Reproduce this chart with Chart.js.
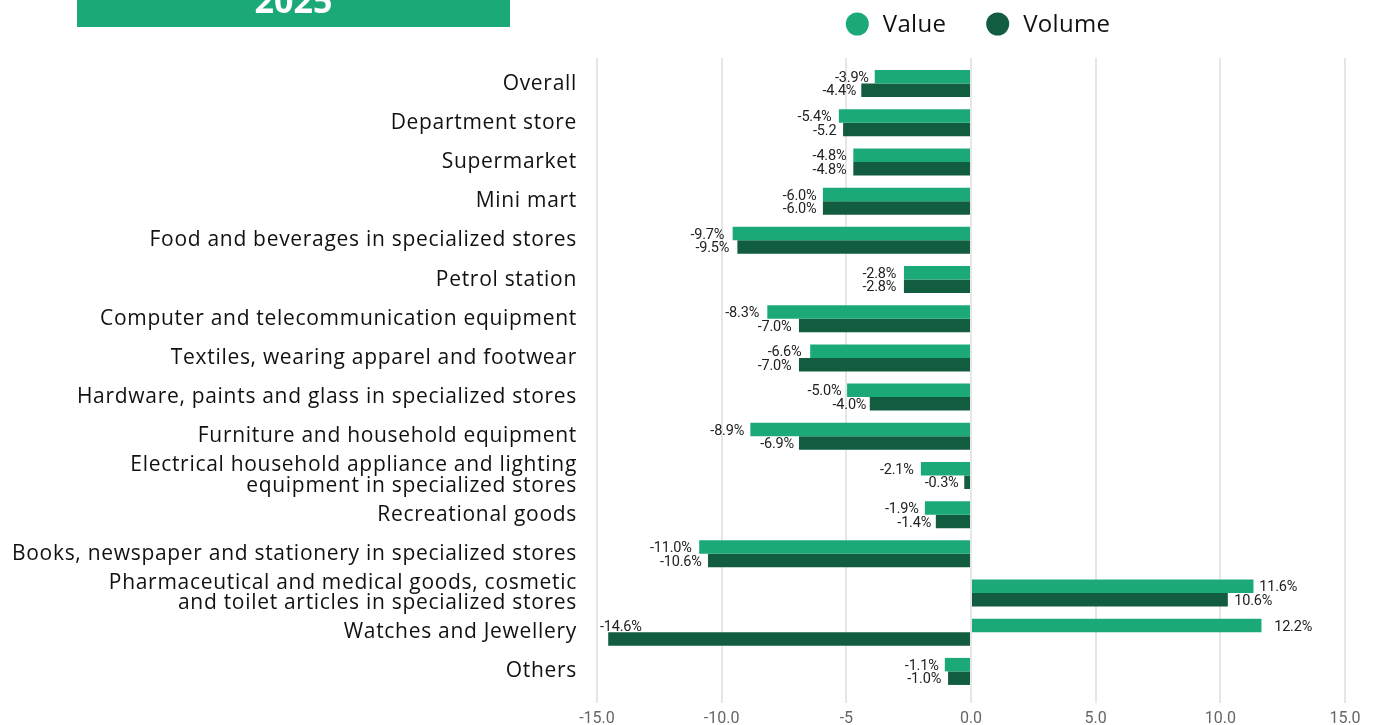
<!DOCTYPE html>
<html><head><meta charset="utf-8">
<script src="https://cdn.jsdelivr.net/npm/chart.js@4.4.1/dist/chart.umd.min.js"></script>
<style>html,body{margin:0;padding:0;background:#fff;overflow:hidden}</style>
</head><body>
<canvas id="c" width="1373" height="725"></canvas>
<script>
const categories = [
  'Overall',
  'Department store',
  'Supermarket',
  'Mini mart',
  'Food and beverages in specialized stores',
  'Petrol station',
  'Computer and telecommunication equipment',
  'Textiles, wearing apparel and footwear',
  'Hardware, paints and glass in specialized stores',
  'Furniture and household equipment',
  ['Electrical household appliance and lighting', 'equipment in specialized stores'],
  'Recreational goods',
  'Books, newspaper and stationery in specialized stores',
  ['Pharmaceutical and medical goods, cosmetic', 'and toilet articles in specialized stores'],
  'Watches and Jewellery',
  'Others'
];
// bar lengths as drawn in the picture
const valueBars  = [-3.86, -5.30, -4.72, -5.94, -9.56, -2.69, -8.17, -6.45, -4.97, -8.85, -2.01, -1.85, -10.90, 11.33, 11.65, -1.05];
const volumeBars = [-4.40, -5.13, -4.72, -5.94, -9.37, -2.69, -6.90, -6.90, -4.06, -6.90, -0.27, -1.41, -10.55, 10.30, -14.55, -0.92];
// printed value labels
const valueLabels  = ['-3.9%', '-5.4%', '-4.8%', '-6.0%', '-9.7%', '-2.8%', '-8.3%', '-6.6%', '-5.0%', '-8.9%', '-2.1%', '-1.9%', '-11.0%', '11.6%', '12.2%', '-1.1%'];
const volumeLabels = ['-4.4%', '-5.2', '-4.8%', '-6.0%', '-9.5%', '-2.8%', '-7.0%', '-7.0%', '-4.0%', '-6.9%', '-0.3%', '-1.4%', '-10.6%', '10.6%', '-14.6%', '-1.0%'];
const xTicks = [-15, -10, -5, 0, 5, 10, 15];
const xTickLabels = ['-15.0', '-10.0', '-5', '0.0', '5.0', '10.0', '15.0'];
const seriesNames = ['Value', 'Volume'];
const titleText = '2025';

const GREEN = '#1BAA77';
const DARK = '#125C3F';
const GRID = '#e6e6e6';

const spacingPlugin = {
  id: 'catSpacing',
  beforeDraw(chart) { chart.ctx.letterSpacing = '0.7px'; },
  beforeDatasetsDraw(chart) {
    const ctx = chart.ctx, xs = chart.scales.x, a = chart.chartArea;
    ctx.letterSpacing = '0px';
    // small extension of the vertical grid lines above the plot
    ctx.save();
    ctx.strokeStyle = GRID;
    ctx.lineWidth = 2;
    xs.ticks.forEach(t => {
      const px = Math.round(xs.getPixelForValue(t.value));
      ctx.beginPath();
      ctx.moveTo(px, a.top - 6);
      ctx.lineTo(px, a.top);
      ctx.stroke();
    });
    ctx.restore();
  }
};

const titlePlugin = {
  id: 'titleBox',
  afterDraw(chart) {
    const ctx = chart.ctx;
    ctx.save();
    ctx.letterSpacing = '0px';
    ctx.fillStyle = GREEN;
    ctx.fillRect(77, 0, 433, 27);
    ctx.fillStyle = '#fff';
    ctx.font = 'bold 34px "Open Sans", sans-serif';
    ctx.textAlign = 'center';
    ctx.textBaseline = 'alphabetic';
    ctx.fillText(titleText, 293.5, 13);
    ctx.restore();
  }
};

const legendPlugin = {
  id: 'topLegend',
  afterDraw(chart) {
    const ctx = chart.ctx, a = chart.chartArea;
    ctx.save();
    ctx.letterSpacing = '0.3px';
    ctx.font = '24px "Open Sans", sans-serif';
    const items = chart.data.datasets.map(d => ({t: d.label, c: d.backgroundColor, w: ctx.measureText(d.label).width}));
    const r = 11.5, gapText = 14, gapItem = 40;
    const total = items.reduce((s, it) => s + 2 * r + gapText + it.w, 0) + gapItem * (items.length - 1);
    let x = (a.left + a.right) / 2 + 7 - total / 2;
    const y = 24;
    items.forEach(it => {
      ctx.fillStyle = it.c;
      ctx.beginPath();
      ctx.arc(x + r, y, r, 0, Math.PI * 2);
      ctx.fill();
      ctx.fillStyle = '#111';
      ctx.textAlign = 'left';
      ctx.textBaseline = 'middle';
      ctx.fillText(it.t, x + 2 * r + gapText, y + 1);
      x += 2 * r + gapText + it.w + gapItem;
    });
    ctx.restore();
  }
};

const labelPlugin = {
  id: 'barLabels',
  afterDatasetsDraw(chart) {
    const ctx = chart.ctx, xs = chart.scales.x, area = chart.chartArea;
    ctx.save();
    ctx.letterSpacing = '-0.2px';
    ctx.font = '14.5px Roboto, sans-serif';
    ctx.fillStyle = '#222';
    ctx.textBaseline = 'middle';
    chart.data.datasets.forEach((ds, di) => {
      const meta = chart.getDatasetMeta(di);
      meta.data.forEach((bar, i) => {
        const txt = ds.labelTexts[i];
        const v = parseFloat(txt);
        const px = xs.getPixelForValue(v);
        const y = bar.y + 1.5;
        if (v < 0) {
          const w = ctx.measureText(txt).width;
          if (px - 5 - w < area.left) {
            ctx.textAlign = 'left';
            ctx.fillText(txt, px - 7, y - bar.height);
          } else {
            ctx.textAlign = 'right';
            ctx.fillText(txt, px - 5, y);
          }
        } else {
          ctx.textAlign = 'left';
          ctx.fillText(txt, px - 1, y);
        }
      });
    });
    ctx.restore();
  }
};

new Chart(document.getElementById('c'), {
  type: 'bar',
  data: {
    labels: categories,
    datasets: [
      {label: seriesNames[0], data: valueBars, backgroundColor: GREEN, labelTexts: valueLabels},
      {label: seriesNames[1], data: volumeBars, backgroundColor: DARK, labelTexts: volumeLabels}
    ]
  },
  options: {
    indexAxis: 'y',
    responsive: false,
    animation: false,
    layout: {padding: {top: 64, right: 28, left: 0, bottom: 0}},
    datasets: {bar: {categoryPercentage: 0.69, barPercentage: 1.0}},
    plugins: {legend: {display: false}, tooltip: {enabled: false}, title: {display: false}},
    scales: {
      x: {
        min: -15, max: 15,
        afterBuildTicks: s => { s.ticks = xTicks.map(v => ({value: v})); },
        ticks: {
          callback: v => xTickLabels[xTicks.indexOf(v)],
          color: '#666',
          font: {family: '"Liberation Sans Narrow", Roboto, sans-serif', size: 16},
          padding: 6, maxRotation: 0, autoSkip: false, z: 1
        },
        grid: {color: GRID, lineWidth: 2, drawTicks: true, tickLength: 12, tickColor: GRID},
        border: {display: false},
        afterFit: s => { s.height = 34; }
      },
      y: {
        grid: {display: false, drawTicks: false},
        border: {display: false},
        ticks: {color: '#111', font: {family: '"Open Sans", sans-serif', size: 21, lineHeight: 0.96}, padding: 20, autoSkip: false},
        afterFit: s => { s.width = 597; }
      }
    }
  },
  plugins: [spacingPlugin, titlePlugin, legendPlugin, labelPlugin]
});
</script>
</body></html>
